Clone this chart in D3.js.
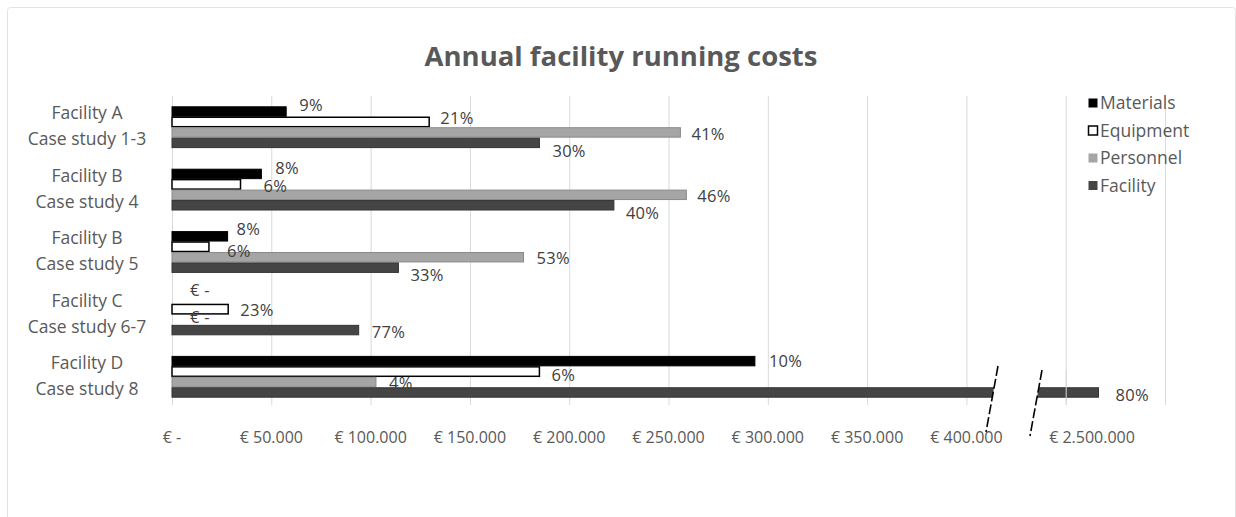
<!DOCTYPE html>
<head>
  <meta charset="utf-8">
  <title>Annual facility running costs</title>
  <style>
    body { margin: 0; background: #fff; }
    text { font-family: "Open Sans", "Liberation Sans", sans-serif; fill: #595959; }
  </style>
</head>
<body>
  <div id="chart"></div>
  <script src="https://cdn.jsdelivr.net/npm/d3@7"></script>
  <script type="text/javascript">

    // categories (two-line labels)
    var categories = ["A", "B4", "B5", "C", "D"];
    var catLine1 = ["Facility A", "Facility B", "Facility B", "Facility C", "Facility D"];
    var catLine2 = ["Case study 1-3", "Case study 4", "Case study 5", "Case study 6-7", "Case study 8"];

    var seriesNames = ["Materials", "Equipment", "Personnel", "Facility"];

    // annual cost in euro
    var materials = [57500, 45000, 28000, 0, 293500];
    var equipment = [129500, 34500, 18600, 28300, 185000];
    var personnel = [256000, 259000, 177000, 0, 102700];
    var facility  = [185000, 222500, 114000, 94000, 2510000];

    // data label texts (share of total)
    var materialsLbl = ["9%", "8%", "8%", "€ -", "10%"];
    var equipmentLbl = ["21%", "6%", "6%", "23%", "6%"];
    var personnelLbl = ["41%", "46%", "53%", "€ -", "4%"];
    var facilityLbl  = ["30%", "40%", "33%", "77%", "80%"];

    // axis tick values
    var tickValues = [0, 50000, 100000, 150000, 200000, 250000, 300000, 350000, 400000, 2500000];
    var gridValues = [0, 50000, 100000, 150000, 200000, 250000, 300000, 350000, 400000, 450000, 500000];

    var seriesValues = [materials, equipment, personnel, facility];
    var seriesLabels = [materialsLbl, equipmentLbl, personnelLbl, facilityLbl];

    var fills = ["#000000", "#ffffff", "#a5a5a5", "#454545"];
    var strokes = ["#000000", "#000000", "#8a8a8a", "#333333"];

    // label nudges [dx, dy] per series / category (Excel labels were moved by hand)
    var nudges = [
      [[13, -6], [14, -6], [9, -7], [18, -8], [14, 0]],
      [[11, -4], [23, 2], [18, 4], [12, 1], [12, 4]],
      [[11, 2], [11, 1], [13, 1], [18, -2], [13, 1]],
      [[13, 8], [12, 8], [12, 8], [13, 2], [17, 3]]
    ];

    var W = 1236, H = 517;
    var svg = d3.select("#chart").append("svg")
      .attr("width", W)
      .attr("height", H);

    // chart frame
    svg.append("rect")
      .attr("x", 7.5).attr("y", 7.5)
      .attr("width", 1228).attr("height", 530)
      .attr("rx", 3)
      .attr("fill", "#fff")
      .attr("stroke", "#e3e3e3");

    svg.append("text")
      .attr("x", 621).attr("y", 66)
      .attr("text-anchor", "middle")
      .style("font-size", "27.5px")
      .style("font-weight", "bold")
      .text("Annual facility running costs");

    var x0 = 172, plotTop = 96, plotBottom = 408;

    // grid scale (linear) and value scale with a break after 410.000
    var xg = d3.scaleLinear().domain([0, 500000]).range([x0, 1165]);
    var x = d3.scaleLinear()
      .domain([0, 410000, 2420000, 2500000])
      .range([x0, xg(410000), 1040, 1092]);

    var y = d3.scaleBand().domain(categories).range([plotTop, plotBottom])
      .paddingInner(0.33).paddingOuter(0.165);
    var ys = d3.scaleBand().domain(seriesNames).range([0, y.bandwidth()]);

    // gridlines
    svg.append("g").selectAll("line")
      .data(gridValues)
      .join("line")
      .attr("x1", d => xg(d) + 0.5).attr("x2", d => xg(d) + 0.5)
      .attr("y1", plotTop).attr("y2", plotBottom - 3)
      .attr("stroke", "#d9d9d9");

    // bars
    var bars = svg.append("g");
    seriesNames.forEach(function(s, si) {
      bars.append("g").selectAll("rect")
        .data(seriesValues[si])
        .join("rect")
        .attr("x", x0)
        .attr("y", (d, i) => y(categories[i]) + ys(s) + 0.5)
        .attr("width", d => Math.max(0, x(d) - x0))
        .attr("height", ys.bandwidth() - 1)
        .attr("fill", fills[si])
        .attr("stroke", d => d > 0 ? strokes[si] : "none")
        .attr("stroke-width", si == 1 ? 1.5 : 1);
    });

    // axis break on the Facility D bar
    var brk = svg.append("g");
    brk.append("path")
      .attr("d", "M998,366 L986,432 L1030,436 L1042,370 Z")
      .attr("fill", "#fff");
    [[998, 366, 986, 432], [1042, 370, 1030, 436]].forEach(function(l) {
      brk.append("line")
        .attr("x1", l[0]).attr("y1", l[1]).attr("x2", l[2]).attr("y2", l[3])
        .attr("stroke", "#000").attr("stroke-width", 1.6)
        .attr("stroke-dasharray", "10,3");
    });
    // gridline passes through the gap
    brk.append("line")
      .attr("x1", xg(450000) + 0.5).attr("x2", xg(450000) + 0.5)
      .attr("y1", 370).attr("y2", plotBottom - 3)
      .attr("stroke", "#d9d9d9");

    // data labels
    var lbls = svg.append("g").style("font-size", "16.5px").style("letter-spacing", "0.3px");
    seriesNames.forEach(function(s, si) {
      lbls.append("g").selectAll("text")
        .data(seriesLabels[si])
        .join("text")
        .attr("x", (d, i) => x(seriesValues[si][i]) + nudges[si][i][0])
        .attr("y", (d, i) => y(categories[i]) + ys(s) + ys.bandwidth() / 2 + nudges[si][i][1])
        .attr("dy", "0.35em")
        .style("fill", "#404040")
        .text(d => d);
    });

    // category labels
    var cat = svg.append("g").style("font-size", "17.5px");
    cat.selectAll("text.l1")
      .data(categories)
      .join("text")
      .attr("class", "l1")
      .attr("x", 87)
      .attr("y", d => y(d) + y.bandwidth() / 2 - 14)
      .attr("dy", "0.35em")
      .attr("text-anchor", "middle")
      .text((d, i) => catLine1[i]);
    cat.selectAll("text.l2")
      .data(categories)
      .join("text")
      .attr("class", "l2")
      .attr("x", 87)
      .attr("y", d => y(d) + y.bandwidth() / 2 + 12)
      .attr("dy", "0.35em")
      .attr("text-anchor", "middle")
      .text((d, i) => catLine2[i]);

    // x axis tick labels
    var loc = d3.formatLocale({ decimal: ",", thousands: ".", grouping: [3], currency: ["€", ""] });
    var fmt = loc.format(",.0f");
    svg.append("g").style("font-size", "16px")
      .selectAll("text")
      .data(tickValues)
      .join("text")
      .attr("x", d => x(d))
      .attr("y", 437)
      .attr("dy", "0.35em")
      .attr("text-anchor", "middle")
      .text(d => d == 0 ? "€ -" : "€ " + fmt(d));

    // legend
    var leg = svg.append("g").attr("transform", "translate(1088,103)");
    seriesNames.forEach(function(s, si) {
      var g = leg.append("g").attr("transform", "translate(0," + si * 27.5 + ")");
      g.append("rect")
        .attr("x", 0.5).attr("y", -4.5)
        .attr("width", 9).attr("height", 9)
        .attr("fill", fills[si])
        .attr("stroke", si == 1 ? "#000" : fills[si])
        .attr("stroke-width", si == 1 ? 1.5 : 0);
      g.append("text")
        .attr("x", 12).attr("y", 0)
        .attr("dy", "0.35em")
        .style("font-size", "17.5px")
        .text(s);
    });

  </script>
</body>
